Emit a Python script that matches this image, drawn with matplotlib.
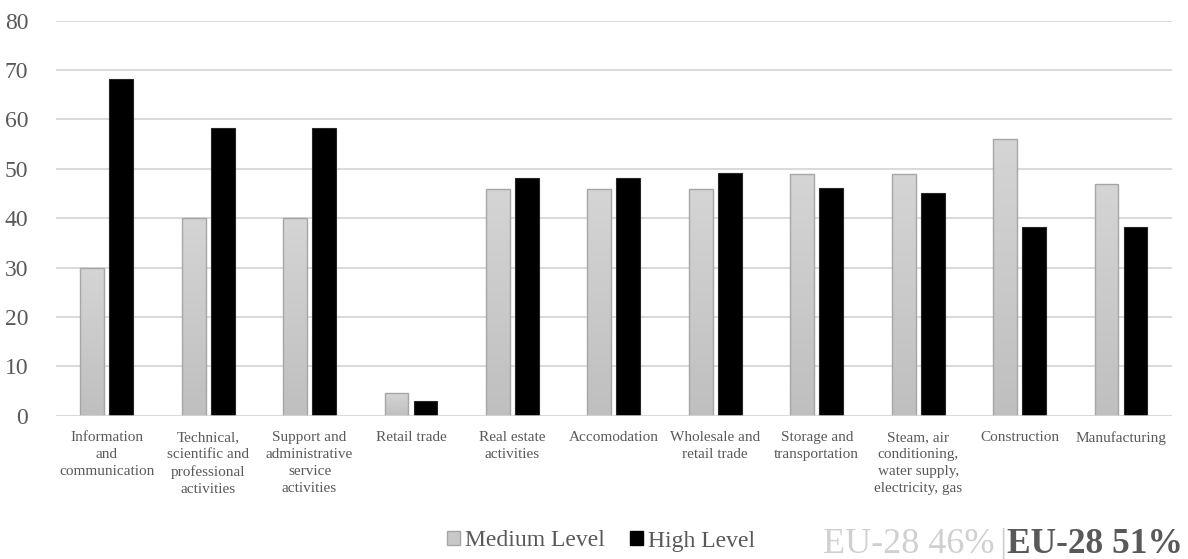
import matplotlib.pyplot as plt
import numpy as np
from matplotlib.patches import Patch
from matplotlib.colors import LinearSegmentedColormap

plt.rcParams['font.family'] = ['Liberation Serif', 'DejaVu Serif']

sectors = ['Information\nand\ncommunication',
           'Technical,\nscientific and\nprofessional\nactivities',
           'Support and\nadministrative\nservice\nactivities',
           'Retail trade',
           'Real estate\nactivities',
           'Accomodation',
           'Wholesale and\nretail trade',
           'Storage and\ntransportation',
           'Steam, air\nconditioning,\nwater supply,\nelectricity, gas',
           'Construction',
           'Manufacturing']
medium_level = [30, 40, 40, 4.5, 46, 46, 46, 49, 49, 56, 47]
high_level = [68.2, 58.2, 58.2, 3, 48.2, 48.2, 49.2, 46.2, 45.2, 38.2, 38.2]
y_ticks = [0, 10, 20, 30, 40, 50, 60, 70, 80]

text_grey = '#595959'
grid_grey = '#d9d9d9'

fig = plt.figure(figsize=(11.88, 5.59), dpi=100)
ax = fig.add_axes([0.0471, 0.2564, 0.9392, 0.7066])

x = np.arange(len(sectors))
w = 0.235
off = 0.143

# light grey bars with a soft vertical gradient
grad = np.linspace(0, 1, 256).reshape(-1, 1)
grey_ramp = LinearSegmentedColormap.from_list('grey_ramp', ['#bfbfbf', '#d5d5d5'])
med_bars = ax.bar(x - off, medium_level, w, color='none', edgecolor='#a6a6a6',
                  linewidth=1.0, zorder=3)
for b in med_bars:
    x0, h = b.get_x(), b.get_height()
    im = ax.imshow(grad, extent=[x0, x0 + w, 0, h], origin='lower', aspect='auto',
                   cmap=grey_ramp, zorder=2)
    im.set_clip_path(b)

ax.bar(x + off, high_level, w, color='black', edgecolor='#262626', linewidth=0.8, zorder=3)

ax.set_xlim(-0.5, len(sectors) - 0.5)
ax.set_ylim(0, 80)
ax.set_yticks(y_ticks)
ax.yaxis.grid(True, color=grid_grey, linewidth=1.4, zorder=0)
ax.axhline(0, color=grid_grey, linewidth=1.8, zorder=4)
ax.set_axisbelow(True)
for s in ax.spines.values():
    s.set_visible(False)

ax.set_xticks(x)
ax.set_xticklabels(sectors, fontsize=11, color=text_grey, linespacing=1.4, va='top')
ax.tick_params(axis='x', length=0, pad=11)
ax.tick_params(axis='y', length=0, pad=20, labelsize=17, labelcolor=text_grey)

handles = [Patch(facecolor='#c8c8c8', edgecolor='#a6a6a6', label='Medium Level'),
           Patch(facecolor='black', edgecolor='black', label='High Level')]
fig.legend(handles=handles, loc='center left', bbox_to_anchor=(435 / 1188, 1 - 541 / 559),
           ncol=2, frameon=False, fontsize=17, handlelength=0.55, handleheight=0.55,
           handletextpad=0.2, columnspacing=1.1, borderpad=0, labelcolor=text_grey)

fig.text(823 / 1188, 1 - 553 / 559, 'EU-28 46%', fontsize=26, color='#d0d0d0',
         ha='left', va='baseline')
fig.text(999 / 1188, 1 - 553 / 559, '|', fontsize=26, color='#d0d0d0',
         ha='left', va='baseline')
fig.text(1007 / 1188, 1 - 553 / 559, 'EU-28 51%', fontsize=25.5, color=text_grey,
         fontweight='bold', ha='left', va='baseline')

fig.savefig('out.png', dpi=100)
